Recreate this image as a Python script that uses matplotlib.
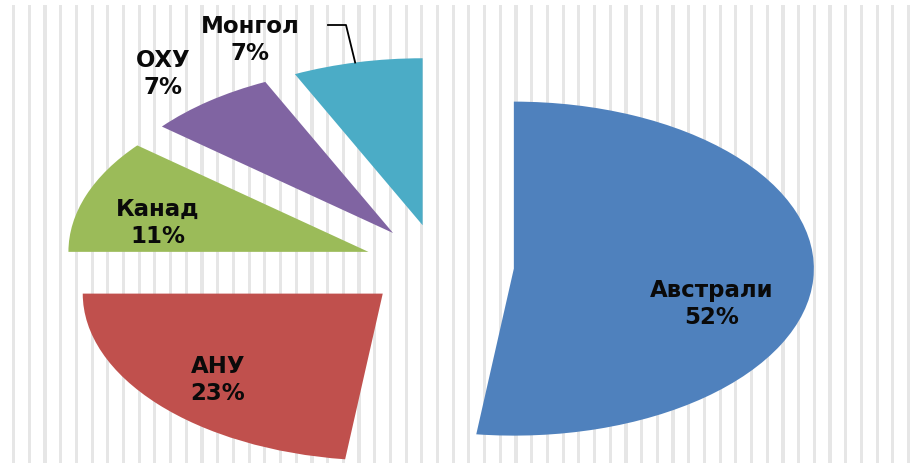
import matplotlib
matplotlib.use("Agg")
import matplotlib.pyplot as plt
import numpy as np
from matplotlib.patches import Rectangle

# ---- data ----
categories = ["Австрали", "АНУ", "Канад", "ОХУ", "Монгол"]
shares = [52, 23, 11, 7, 7]
colors = ["#4F81BD", "#C0504D", "#9BBB59", "#8064A2", "#4BACC6"]

# label block centres (data units of the stretched pie axes)
label_pos = [(0.91, -0.22), (-0.737, -0.677), (-0.937, 0.263), (-0.92, 1.155), (-0.63, 1.36)]

W, H = 918, 464
fig = plt.figure(figsize=(W / 100, H / 100), dpi=100)
fig.patch.set_facecolor("white")

# background with vertical stripes
bg = fig.add_axes([0, 0, 1, 1])
bg.set_xlim(0, W)
bg.set_ylim(H, 0)
bg.axis("off")
for x in np.arange(12, 910, 15.7):
    bg.add_patch(Rectangle((x, 6), 3.2, H - 6, facecolor="#e6e6e6", edgecolor="none"))

ax = fig.add_axes([0, 0, 1, 1])
ax.patch.set_alpha(0)
wedges, _ = ax.pie(shares, colors=colors, startangle=90, counterclock=False,
                   explode=[0.25] * len(shares), radius=1.0,
                   wedgeprops=dict(linewidth=0))
ax.set_aspect("auto")
cx, cy, a, b = 439, 267, 300, 167
ax.set_xlim(-cx / a, (W - cx) / a)
ax.set_ylim((cy - H) / b, cy / b)
ax.axis("off")

for name, val, (lx, ly) in zip(categories, shares, label_pos):
    ax.text(lx, ly, f"{name}\n{val}%", ha="center", va="center",
            fontsize=16.5, fontweight="bold", color="#0a0a0a",
            family=["DejaVu Sans"], linespacing=1.2)

# leader line for the last slice
w = wedges[-1]
th = np.deg2rad(103)
px = w.center[0] + w.r * np.cos(th)
py = w.center[1] + w.r * np.sin(th)
tx = (328 - cx) / a
ty = (cy - 26) / b
kx = (346 - cx) / a
ax.plot([tx, kx, px], [ty, ty, py], color="black", lw=1.3)

fig.savefig("out.png", dpi=100)
